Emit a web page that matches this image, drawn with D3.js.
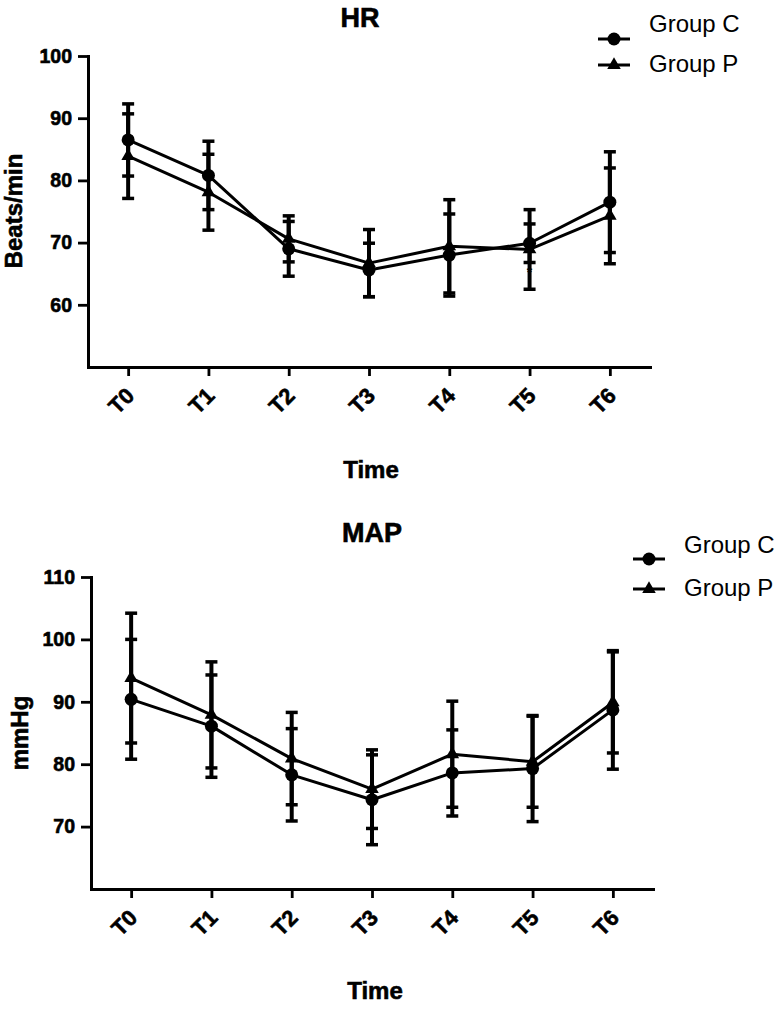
<!DOCTYPE html>
<html>
<head>
<meta charset="utf-8">
<script src="https://cdn.jsdelivr.net/npm/d3@7"></script>
<style>
  html, body { margin: 0; padding: 0; background: #fff; }
  svg { display: block; }
  text { font-family: "Liberation Sans", Arial, Helvetica, sans-serif; fill: #000; }
</style>
</head>
<body>
<svg id="chart" width="778" height="1009"></svg>
<script>
// ---------------- DATA ----------------
const timepoints = ["T0", "T1", "T2", "T3", "T4", "T5", "T6"];
const seriesNames = ["Group C", "Group P"];

// HR (Beats/min)
const hrGroupC   = [86.5, 80.8, 69.0, 65.6, 68.0, 69.9, 76.5];
const hrGroupCsd = [5.8, 5.5, 4.4, 4.3, 6.6, 3.1, 8.1];
const hrGroupP   = [83.9, 78.1, 70.6, 66.7, 69.4, 68.9, 74.3];
const hrGroupPsd = [6.8, 6.1, 3.7, 5.4, 7.5, 6.4, 7.7];
const hrTicks = [60, 70, 80, 90, 100];
const hrDomain = [50, 100];
const hrMarks = [{ t: "T5", v: 65.5 }]; // small asterisk on the T5 bar

// MAP (mmHg)
const mapGroupC   = [90.4, 86.1, 78.3, 74.3, 78.6, 79.3, 88.7];
const mapGroupCsd = [9.6, 8.2, 7.4, 7.2, 6.9, 8.5, 9.5];
const mapGroupP   = [93.8, 87.9, 80.9, 76.0, 81.6, 80.4, 89.9];
const mapGroupPsd = [10.4, 8.5, 7.4, 6.3, 8.5, 7.3, 8.1];
const mapTicks = [70, 80, 90, 100, 110];
const mapDomain = [60, 110];

// ---------------- DRAW ----------------
const svg = d3.select("#chart");
const FONT = "'Liberation Sans', Arial, Helvetica, sans-serif";

function boldText(sel, size) {
  return sel.attr("font-size", size).attr("font-weight", "bold")
    .attr("font-family", FONT).attr("fill", "#000")
    .attr("stroke", "#000").attr("stroke-width", 0.6).attr("paint-order", "stroke");
}

function panel(cfg) {
  const g = svg.append("g");
  const x = d3.scalePoint().domain(timepoints).range([cfg.x0, cfg.x1]).padding(0.5);
  const y = d3.scaleLinear().domain(cfg.domain).range([cfg.y0, cfg.y1]);

  // title
  boldText(g.append("text").attr("x", cfg.titleX).attr("y", cfg.titleY)
    .attr("text-anchor", "middle"), 27).text(cfg.title);

  // y axis
  const ya = g.append("g").attr("transform", `translate(${cfg.x0},0)`)
    .call(d3.axisLeft(y).tickValues(cfg.ticks).tickSize(10).tickSizeOuter(0).tickPadding(6));
  ya.select(".domain").attr("stroke-width", 3).attr("stroke-linecap", "square").attr("stroke", "#000");
  ya.selectAll(".tick line").attr("stroke-width", 2.8).attr("stroke", "#000");
  boldText(ya.selectAll(".tick text"), 19.5);

  // x axis
  const xa = g.append("g").attr("transform", `translate(0,${cfg.y0})`)
    .call(d3.axisBottom(x).tickSize(9).tickSizeOuter(0));
  xa.select(".domain").attr("stroke-width", 3).attr("stroke-linecap", "square").attr("stroke", "#000");
  xa.selectAll(".tick line").attr("stroke-width", 2.8).attr("stroke", "#000");
  boldText(xa.selectAll(".tick text"), 22)
    .attr("text-anchor", "end")
    .attr("y", 0).attr("dy", 0)
    .attr("transform", "translate(7,30) rotate(-45)");

  // axis titles
  boldText(g.append("text").attr("x", cfg.xTitleX).attr("y", cfg.xTitleY)
    .attr("text-anchor", "middle"), 24).text("Time");
  boldText(g.append("text")
    .attr("transform", `translate(${cfg.yTitleX},${cfg.yTitleY}) rotate(-90)`)
    .attr("text-anchor", "middle"), 24).text(cfg.yTitle);

  const series = [
    { name: seriesNames[0], vals: cfg.c, sd: cfg.csd, shape: "circle" },
    { name: seriesNames[1], vals: cfg.p, sd: cfg.psd, shape: "triangle" }
  ];

  // error bars
  const capW = 12;
  series.forEach(s => {
    const eb = g.append("g");
    timepoints.forEach((t, i) => {
      const cx = x(t);
      const hi = y(s.vals[i] + s.sd[i]);
      const lo = y(s.vals[i] - s.sd[i]);
      eb.append("line").attr("x1", cx).attr("x2", cx).attr("y1", hi).attr("y2", lo)
        .attr("stroke", "#000").attr("stroke-width", 4);
      [hi, lo].forEach(yy => eb.append("line")
        .attr("x1", cx - capW / 2).attr("x2", cx + capW / 2).attr("y1", yy).attr("y2", yy)
        .attr("stroke", "#000").attr("stroke-width", 3.5));
    });
  });

  // lines
  const lineGen = d3.line().x((d, i) => x(timepoints[i])).y(d => y(d));
  series.forEach(s => {
    g.append("path").attr("d", lineGen(s.vals)).attr("fill", "none")
      .attr("stroke", "#000").attr("stroke-width", 3).attr("stroke-linejoin", "round");
  });

  // markers
  const circ = d3.symbol().type(d3.symbolCircle).size(Math.PI * 6.5 * 6.5);
  const tri = d3.symbol().type(d3.symbolTriangle).size(80);
  series.forEach(s => {
    g.selectAll(null).data(s.vals).enter().append("path")
      .attr("d", s.shape === "circle" ? circ() : tri())
      .attr("transform", (d, i) => `translate(${x(timepoints[i])},${y(d)})`)
      .attr("fill", "#000");
  });

  // extra marks
  (cfg.marks || []).forEach(m => {
    g.append("text").attr("x", x(m.t)).attr("y", y(m.v) + 6)
      .attr("text-anchor", "middle").attr("font-size", 14).attr("font-weight", "bold").text("*");
  });

  // legend
  const lg = g.append("g");
  series.forEach((s, i) => {
    const my = cfg.legMarkY[i];
    lg.append("line").attr("x1", cfg.legX - 16).attr("x2", cfg.legX + 16)
      .attr("y1", my).attr("y2", my).attr("stroke", "#000").attr("stroke-width", 3);
    lg.append("path").attr("d", s.shape === "circle" ? circ() : tri())
      .attr("transform", `translate(${cfg.legX},${my})`).attr("fill", "#000");
    lg.append("text").attr("x", cfg.legTextX).attr("y", cfg.legTextY[i])
      .attr("font-size", 24).attr("font-family", FONT).text(s.name);
  });
}

panel({
  title: "HR", titleX: 360, titleY: 27,
  x0: 88, x1: 650, y0: 367, y1: 56, domain: hrDomain, ticks: hrTicks,
  c: hrGroupC, csd: hrGroupCsd, p: hrGroupP, psd: hrGroupPsd,
  xTitleX: 371, xTitleY: 478, yTitle: "Beats/min", yTitleX: 22, yTitleY: 211,
  legX: 614, legMarkY: [39, 65], legTextX: 649, legTextY: [32, 72],
  marks: hrMarks
});

panel({
  title: "MAP", titleX: 372, titleY: 542,
  x0: 91, x1: 653, y0: 889, y1: 577, domain: mapDomain, ticks: mapTicks,
  c: mapGroupC, csd: mapGroupCsd, p: mapGroupP, psd: mapGroupPsd,
  xTitleX: 375, xTitleY: 999, yTitle: "mmHg", yTitleX: 28, yTitleY: 733,
  legX: 649, legMarkY: [559, 589], legTextX: 684, legTextY: [553, 596],
  marks: []
});
</script>
</body>
</html>
